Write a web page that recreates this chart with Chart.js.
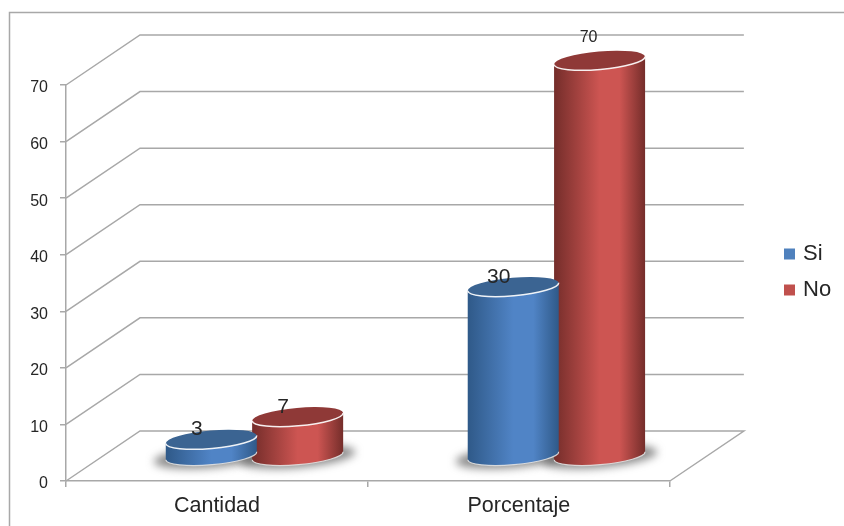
<!DOCTYPE html>
<html>
<head>
<meta charset="utf-8">
<style>
    body { margin: 0; background: #fff; }
    canvas { display: block; }
</style>
<script src="https://cdn.jsdelivr.net/npm/chart.js@4"></script>
</head>
<body>
<canvas id="chart" width="844" height="526"></canvas>
<script>
const categorias = ['Cantidad', 'Porcentaje'];
const valoresSi = [3, 30];
const valoresNo = [7, 70];

const fonte = '"Liberation Sans", Arial, sans-serif';
const corLinha = '#a8a8a8';
const corTexto = '#262626';

// profundidade da parede do fundo e do meio do piso, em relacao ao eixo da frente
const paredeX = 74, paredeY = -50;
const meioX = 37.5, meioY = -24.5;
const raioY = 9, giro = -5 * Math.PI / 180;

const coresCilindro = {
    Si: { borda: '#2f5988', meio: '#5084c6', tampa: '#3b6492' },
    No: { borda: '#742d2a', meio: '#cd5552', tampa: '#8f3937' }
};

// moldura + grade em perspectiva
const grade3d = {
    id: 'grade3d',
    beforeDatasetsDraw(chart) {
        const { ctx, scales: { y }, chartArea: { left, right } } = chart;
        ctx.save();
        ctx.strokeStyle = corLinha;
        ctx.lineWidth = 1.5;

        ctx.beginPath();
        ctx.moveTo(9.5, chart.height);
        ctx.lineTo(9.5, 12.5);
        ctx.lineTo(chart.width, 12.5);
        ctx.stroke();

        y.ticks.forEach(tick => {
            const py = y.getPixelForValue(tick.value);
            ctx.beginPath();
            ctx.moveTo(left, py);
            ctx.lineTo(left + paredeX, py + paredeY);
            ctx.lineTo(right + paredeX, py + paredeY);
            if (tick.value === 0) ctx.lineTo(right, py);
            ctx.stroke();
        });

        // sombra no piso, antes de todos os cilindros
        chart.data.datasets.forEach((ds, i) => {
            chart.getDatasetMeta(i).data.forEach(barra => {
                ctx.save();
                ctx.filter = 'blur(4px)';
                ctx.fillStyle = 'rgba(90, 90, 90, 0.7)';
                ctx.beginPath();
                ctx.ellipse(barra.x + meioX, barra.base + meioY + 1, barra.width / 2 + 12, raioY + 2, giro, 0, Math.PI * 2);
                ctx.fill();
                ctx.restore();
            });
        });
        ctx.restore();
    }
};

function desenharCilindro(ctx, barra, cores) {
    const cx = barra.x + meioX;
    const topo = barra.y + meioY;
    const base = barra.base + meioY;
    const rx = barra.width / 2;

    const grad = ctx.createLinearGradient(cx - rx, 0, cx + rx, 0);
    grad.addColorStop(0, cores.borda);
    grad.addColorStop(0.5, cores.meio);
    grad.addColorStop(0.72, cores.meio);
    grad.addColorStop(1, cores.borda);

    ctx.beginPath();
    ctx.ellipse(cx, base, rx, raioY, giro, 0, Math.PI);
    ctx.ellipse(cx, topo, rx, raioY, giro, Math.PI, 0, true);
    ctx.closePath();
    ctx.fillStyle = grad;
    ctx.fill();

    ctx.beginPath();
    ctx.ellipse(cx, base, rx, raioY, giro, 0, Math.PI);
    ctx.strokeStyle = 'rgba(225, 225, 225, 0.9)';
    ctx.lineWidth = 1.2;
    ctx.stroke();

    ctx.beginPath();
    ctx.ellipse(cx, topo, rx, raioY, giro, 0, Math.PI * 2);
    ctx.fillStyle = cores.tampa;
    ctx.fill();

    ctx.beginPath();
    ctx.ellipse(cx, topo, rx, raioY, giro, 0, Math.PI);
    ctx.strokeStyle = 'rgba(255, 255, 255, 0.9)';
    ctx.lineWidth = 1.5;
    ctx.stroke();
}

// troca o retangulo da barra pelo cilindro
const cilindros = {
    id: 'cilindros',
    beforeDatasetDraw(chart, args) {
        const ds = chart.data.datasets[args.index];
        chart.ctx.save();
        args.meta.data.forEach(barra => desenharCilindro(chart.ctx, barra, coresCilindro[ds.label]));
        chart.ctx.restore();
        return false;
    },
    afterDatasetsDraw(chart) {
        const ctx = chart.ctx;
        ctx.save();
        ctx.fillStyle = corTexto;
        ctx.textAlign = 'center';
        ctx.textBaseline = 'middle';
        chart.data.datasets.forEach((ds, i) => {
            chart.getDatasetMeta(i).data.forEach((barra, j) => {
                const valor = ds.data[j];
                const pequeno = valor === 70;
                ctx.font = (pequeno ? 16 : 21) + 'px ' + fonte;
                ctx.fillText(valor, barra.x + meioX + (pequeno ? -11 : -14.5), barra.y + meioY + (pequeno ? -23 : -10));
            });
        });
        ctx.restore();
    },
    afterLayout(chart) {
        // legenda fica longe da area do grafico
        const legenda = chart.legend;
        const largura = legenda.width;
        legenda.left = 773;
        legenda.right = 773 + largura;
        legenda.top = 229;
        legenda.bottom = 229 + legenda.height;
    }
};

new Chart(document.getElementById('chart'), {
    type: 'bar',
    data: {
        labels: categorias,
        datasets: [
            { label: 'Si', data: valoresSi, backgroundColor: '#4f81bd' },
            { label: 'No', data: valoresNo, backgroundColor: '#c0504d' }
        ]
    },
    options: {
        responsive: false,
        animation: false,
        categoryPercentage: 0.572,
        barPercentage: 1.058,
        layout: { padding: { left: 0, top: 85, right: 106, bottom: 0 } },
        plugins: {
            title: { display: false },
            tooltip: { enabled: false },
            legend: {
                position: 'right',
                align: 'start',
                labels: {
                    usePointStyle: true,
                    pointStyle: 'rect',
                    boxWidth: 5,
                    boxHeight: 11,
                    padding: 14,
                    color: corTexto,
                    font: { family: fonte, size: 22 }
                }
            }
        },
        scales: {
            x: {
                afterFit(scale) { scale.height = 45; },
                border: { color: corLinha, width: 1.5 },
                grid: { drawOnChartArea: false, offset: true, color: corLinha, lineWidth: 1.5, tickLength: 6 },
                ticks: { color: corTexto, padding: 6, font: { family: fonte, size: 21.5 } }
            },
            y: {
                min: 0,
                max: 70,
                afterFit(scale) { scale.width = 66; },
                border: { color: corLinha, width: 1.5 },
                grid: { drawOnChartArea: false, color: corLinha, lineWidth: 1.5, tickLength: 6 },
                ticks: { stepSize: 10, color: corTexto, padding: 12, labelOffset: 3, font: { family: fonte, size: 16 } }
            }
        }
    },
    plugins: [grade3d, cilindros]
});
</script>
</body>
</html>
